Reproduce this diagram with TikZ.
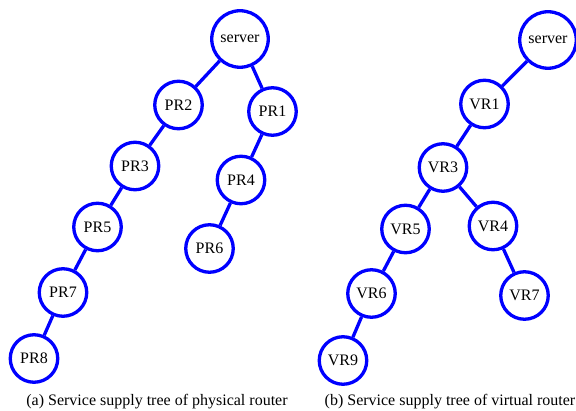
\documentclass[tikz,border=0pt]{standalone}
\usepackage{fontspec}
\setmainfont{Liberation Serif}
\usepackage{tikz}
\usetikzlibrary{positioning}
\definecolor{treeBlue}{RGB}{0,0,255}

\begin{document}
\begin{tikzpicture}[
            % one unit = one point, y growing downwards
            x=1pt, y=-1pt,
            rt/.style   ={circle, draw=treeBlue, line width=3.3pt, inner sep=0pt,
                    minimum size=47.5pt, font=\fontsize{16}{18}\selectfont},
            srv/.style  ={rt, minimum size=56.5pt},
            captext/.style ={font=\fontsize{16}{18}\selectfont, inner sep=0pt},
            link/.style ={draw=treeBlue, line width=3.3pt}
        ]
        \useasboundingbox (0,0) rectangle (576,411);

        % (a) physical routers
        \node[srv] (pserver) at (240,39)    {server};
        \node[rt]  (pr2)     at (178.5,105) {PR2};
        \node[rt]  (pr1)     at (272.5,111.5) {PR1};
        \node[rt]  (pr3)     at (135,166)   {PR3};
        \node[rt]  (pr4)     at (241,180)   {PR4};
        \node[rt]  (pr5)     at (97.5,227)  {PR5};
        \node[rt]  (pr6)     at (209.5,248.5) {PR6};
        \node[rt]  (pr7)     at (63,292.5)  {PR7};
        \node[rt]  (pr8)     at (34,358.5)  {PR8};

        \draw[link] (pserver) -- (pr2);
        \draw[link] (pserver) -- (pr1);
        \draw[link] (pr2) -- (pr3);
        \draw[link] (pr1) -- (pr4);
        \draw[link] (pr3) -- (pr5);
        \draw[link] (pr4) -- (pr6);
        \draw[link] (pr5) -- (pr7);
        \draw[link] (pr7) -- (pr8);

        % (b) virtual routers
        \node[srv] (vserver) at (548,40)    {server};
        \node[rt]  (vr1)     at (484.5,104) {VR1};
        \node[rt]  (vr3)     at (443,167.5) {VR3};
        \node[rt]  (vr5)     at (405.5,229) {VR5};
        \node[rt]  (vr4)     at (493,226)   {VR4};
        \node[rt]  (vr6)     at (371.5,293.5) {VR6};
        \node[rt]  (vr7)     at (524.5,295.5) {VR7};
        \node[rt]  (vr9)     at (343,360.5) {VR9};

        \draw[link] (vserver) -- (vr1);
        \draw[link] (vr1) -- (vr3);
        \draw[link] (vr3) -- (vr5);
        \draw[link] (vr3) -- (vr4);
        \draw[link] (vr5) -- (vr6);
        \draw[link] (vr4) -- (vr7);
        \draw[link] (vr6) -- (vr9);

        \node[captext] (capa) at (157,401.5) {(a) Service supply tree of physical router};
        \node[captext] (capb) at (450,401.5) {(b) Service supply tree of virtual router};

    \end{tikzpicture}
\end{document}
